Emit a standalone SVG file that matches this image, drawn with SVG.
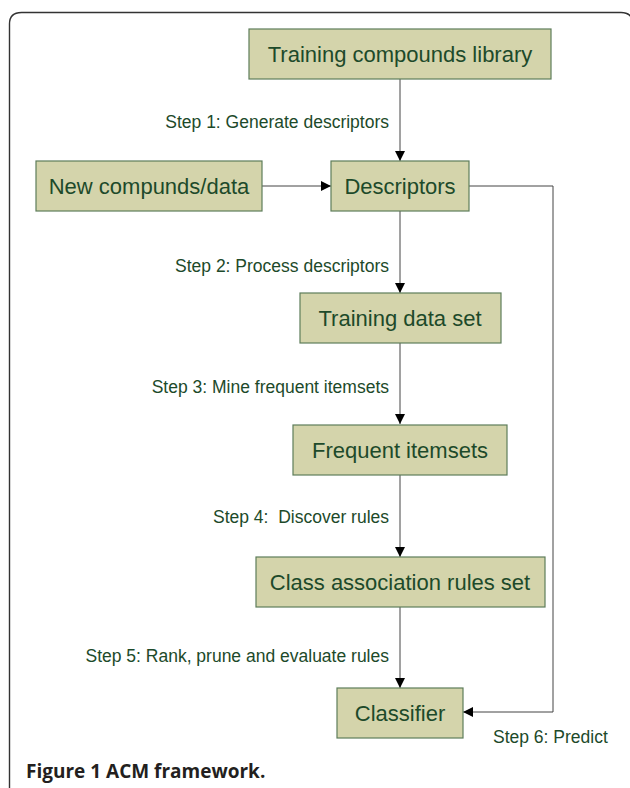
<svg xmlns="http://www.w3.org/2000/svg" width="630" height="788" viewBox="0 0 630 788">
<defs>
<style>
.box{fill:#d4d4ab;stroke:#5e7d5a;stroke-width:1.2}
.bt{font-family:"Liberation Sans",Arial,sans-serif;font-size:22px;fill:#1d4a2a;text-anchor:middle}
.st{font-family:"Liberation Sans",Arial,sans-serif;font-size:17.5px;fill:#1d4a2a}
.ln{fill:none;stroke:#444;stroke-width:1}
.cap{font-family:"Open Sans","DejaVu Sans",sans-serif;font-size:19px;font-weight:bold;fill:#231f20}
</style>
<marker id="ah" viewBox="0 0 10 10" refX="10" refY="5" markerWidth="10" markerHeight="10" markerUnits="userSpaceOnUse" orient="auto">
<path d="M0,0 L10,5 L0,10 Z" fill="#000"/>
</marker>
</defs>
<rect x="0" y="0" width="630" height="788" fill="#fff"/>
<path d="M9.5,788 V24 Q9.5,12.5 21.5,12.5 H621 Q633,12.5 633,25" fill="none" stroke="#333" stroke-width="1.4"/>
<g id="connectors">
<line class="ln" x1="400" y1="79" x2="400" y2="161" marker-end="url(#ah)"/>
<line class="ln" x1="262" y1="186" x2="331" y2="186" marker-end="url(#ah)"/>
<line class="ln" x1="400" y1="211" x2="400" y2="293" marker-end="url(#ah)"/>
<line class="ln" x1="400" y1="343" x2="400" y2="424" marker-end="url(#ah)"/>
<line class="ln" x1="400" y1="475" x2="400" y2="557" marker-end="url(#ah)"/>
<line class="ln" x1="400" y1="607" x2="400" y2="688" marker-end="url(#ah)"/>
<polyline class="ln" points="469,186 553,186 553,712 463,712" marker-end="url(#ah)"/>
<text class="st" x="389" y="128" text-anchor="end">Step 1: Generate descriptors</text>
<text class="st" x="389" y="272" text-anchor="end">Step 2: Process descriptors</text>
<text class="st" x="389" y="393" text-anchor="end">Step 3: Mine frequent itemsets</text>
<text class="st" x="389" y="523" text-anchor="end" xml:space="preserve">Step 4:  Discover rules</text>
<text class="st" x="389" y="662" text-anchor="end">Step 5: Rank, prune and evaluate rules</text>
<text class="st" x="493" y="743">Step 6: Predict</text>
</g>
<g id="n-training-lib">
<rect class="box" x="249" y="29" width="302" height="50"/>
<text class="bt" x="400" y="62">Training compounds library</text>
</g>
<g id="n-new">
<rect class="box" x="36" y="161" width="226" height="50"/>
<text class="bt" x="149" y="194">New compunds/data</text>
</g>
<g id="n-descriptors">
<rect class="box" x="331" y="161" width="138" height="50"/>
<text class="bt" x="400" y="194">Descriptors</text>
</g>
<g id="n-training-set">
<rect class="box" x="300" y="293" width="201" height="50"/>
<text class="bt" x="400" y="326">Training data set</text>
</g>
<g id="n-frequent">
<rect class="box" x="293" y="425" width="214" height="50"/>
<text class="bt" x="400" y="458">Frequent itemsets</text>
</g>
<g id="n-car">
<rect class="box" x="256" y="557" width="289" height="50"/>
<text class="bt" x="400" y="590">Class association rules set</text>
</g>
<g id="n-classifier">
<rect class="box" x="337" y="688" width="126" height="50"/>
<text class="bt" x="400" y="721">Classifier</text>
</g>
<text class="cap" x="26" y="778">Figure 1 ACM framework.</text>
</svg>
